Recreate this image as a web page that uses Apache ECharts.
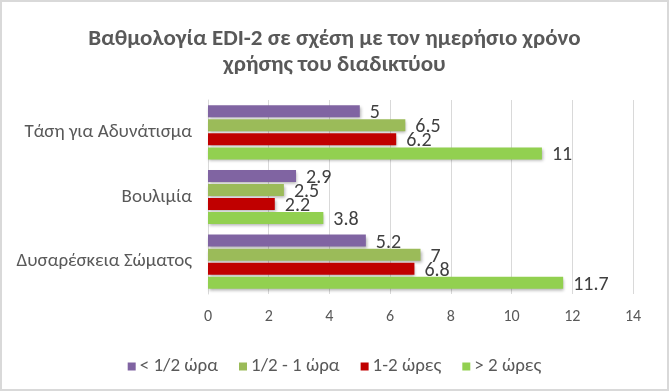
<!DOCTYPE html>
<html><head><meta charset="utf-8">
<script src="https://cdn.jsdelivr.net/npm/echarts@6/dist/echarts.min.js"></script>
<style>html,body{margin:0;padding:0;background:#fff}#c{width:669px;height:391px;box-sizing:border-box;border:2px solid #d9d9d9}</style>
</head><body><div id="c"></div>
<script>
const categories = ['Τάση για Αδυνάτισμα', 'Βουλιμία', 'Δυσαρέσκεια Σώματος'];
const seriesNames = ['< 1/2 ώρα', '1/2 - 1 ώρα', '1-2 ώρες', '> 2 ώρες'];
const lessHalf = [5, 2.9, 5.2];
const halfToOne = [6.5, 2.5, 7];
const oneToTwo = [6.2, 2.2, 6.8];
const overTwo = [11, 3.8, 11.7];
const xTicks = [0, 2, 4, 6, 8, 10, 12, 14];
const colors = ['#8064A2', '#9BBB59', '#C00000', '#92D050'];
const values = [lessHalf, halfToOne, oneToTwo, overTwo];
const font = 'Calibri, Carlito, Lato, "Open Sans", "Noto Sans", sans-serif';
const chart = echarts.init(document.getElementById('c'));
chart.setOption({
  animation: false,
  textStyle: {fontFamily: font},
  title: {
    text: 'Βαθμολογία EDI-2 σε σχέση με τον ημερήσιο χρόνο\nχρήσης του διαδικτύου',
    left: 'center', top: 19,
    textStyle: {fontSize: 23, fontWeight: 'bold', color: '#595959', lineHeight: 26, fontFamily: font}
  },
  legend: {
    top: 350, left: 'center', itemWidth: 8, itemHeight: 8, itemGap: 21,
    icon: 'rect',
    textStyle: {fontSize: 19, color: '#595959', padding: [0, 0, 0, -1]},
    data: seriesNames
  },
  grid: {left: 206, right: 34, top: 98, bottom: 95, containLabel: false},
  xAxis: {
    type: 'value', min: 0, max: 14, interval: 2,
    axisLine: {show: false}, axisTick: {show: false},
    splitLine: {lineStyle: {color: '#d9d9d9'}},
    axisLabel: {fontSize: 16, color: '#595959', margin: 15}
  },
  yAxis: {
    type: 'category', data: categories, inverse: true,
    axisLine: {lineStyle: {color: '#d9d9d9'}}, axisTick: {show: false},
    axisLabel: {fontSize: 19, color: '#595959', margin: 16}
  },
  series: seriesNames.map((n, i) => ({
    name: n, type: 'bar', data: values[i],
    barWidth: 12, barGap: '17%', barCategoryGap: '18%',
    itemStyle: {color: colors[i], shadowColor: 'rgba(0,0,0,0.3)', shadowBlur: 3, shadowOffsetY: 2, shadowOffsetX: 1},
    label: {show: true, position: 'right', distance: 10, offset: [0, 2], fontSize: 20, color: '#404040'}
  }))
});
</script></body></html>
